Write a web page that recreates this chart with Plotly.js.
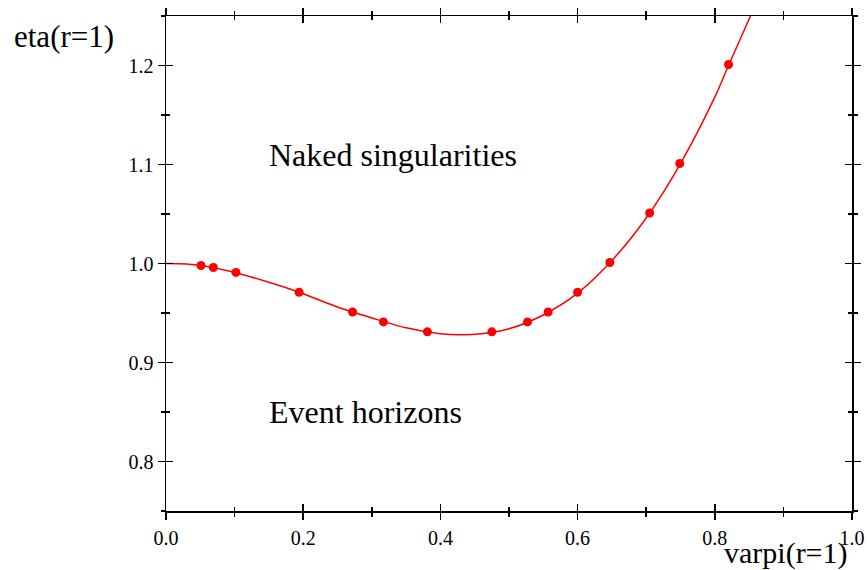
<!DOCTYPE html>
<html>
<head>
<meta charset="utf-8">
<script src="https://cdn.plot.ly/plotly-3.0.1.min.js"></script>
<style>html,body{margin:0;padding:0;background:#fff;}#chart{width:867px;height:570px;}</style>
</head>
<body>
<div id="chart"></div>
<script>
// Measured points
const pointX = [0.051, 0.069, 0.102, 0.194, 0.272, 0.317, 0.381, 0.475, 0.527, 0.557, 0.600, 0.647, 0.705, 0.749, 0.820];
const pointY = [0.998, 0.996, 0.991, 0.971, 0.951, 0.941, 0.931, 0.931, 0.941, 0.951, 0.971, 1.001, 1.051, 1.101, 1.201];
// Fitted curve
const curveX = [0.0, 0.03, 0.051, 0.1, 0.15, 0.194, 0.25, 0.3, 0.35, 0.4, 0.43, 0.46, 0.5, 0.55, 0.6, 0.65, 0.7, 0.75, 0.8, 0.82, 0.852];
const curveY = [1.0, 0.9995, 0.998, 0.991, 0.981, 0.971, 0.956, 0.945, 0.935, 0.929, 0.928, 0.929, 0.934, 0.948, 0.970, 1.003, 1.046, 1.101, 1.168, 1.200, 1.250];
const xTicks = [0.0, 0.2, 0.4, 0.6, 0.8, 1.0];
const xTickText = ["0.0", "0.2", "0.4", "0.6", "0.8", "1.0"];
const yTicks = [0.8, 0.9, 1.0, 1.1, 1.2];
const yTickText = ["0.8", "0.9", "1.0", "1.1", "1.2"];
const labelNaked = "Naked singularities";
const labelEvent = "Event horizons";
const xTitle = "varpi(r=1)";
const yTitle = "eta(r=1)";

const serif = "Liberation Serif, Times New Roman, serif";
const xRange = [0, 1];
const yRange = [0.75, 1.25];

const traces = [
  {x: curveX, y: curveY, mode: 'lines', type: 'scatter', line: {color: '#ff0000', width: 1.5, shape: 'spline', smoothing: 0.8}, hoverinfo: 'skip'},
  {x: pointX, y: pointY, mode: 'markers', type: 'scatter', marker: {color: '#ff0000', size: 9}},
  {x: [], y: [], xaxis: 'x2', yaxis: 'y2', type: 'scatter', mode: 'markers'}
];

function axisBase(range, tickvals, ticktext, minorDtick, ticks) {
  return {
    range: range, tickmode: 'array', tickvals: tickvals, ticktext: ticktext,
    ticks: ticks, ticklen: 7, tickwidth: 1.5, tickcolor: '#000',
    showline: true, linecolor: '#000', linewidth: 1.5, mirror: 'ticks',
    showgrid: false, zeroline: false,
    minor: {dtick: minorDtick, ticks: ticks, ticklen: 4, tickwidth: 1.5, tickcolor: '#000', showgrid: false},
    tickfont: {family: serif, size: 20, color: '#000'}
  };
}

const xa = axisBase(xRange, xTicks, xTickText, 0.1, 'outside');
xa.ticklabelstandoff = 1;
const ya = axisBase(yRange, yTicks, yTickText, 0.05, 'outside');
const xa2 = axisBase(xRange, xTicks, xTickText, 0.1, 'inside');
xa2.overlaying = 'x'; xa2.anchor = 'y'; xa2.showticklabels = false; xa2.side = 'bottom';
const ya2 = axisBase(yRange, yTicks, yTickText, 0.05, 'inside');
ya2.overlaying = 'y'; ya2.anchor = 'x'; ya2.showticklabels = false; ya2.side = 'left';

const layout = {
  width: 867, height: 570,
  margin: {l: 166, r: 15, t: 16, b: 59},
  paper_bgcolor: '#fff', plot_bgcolor: '#fff',
  showlegend: false,
  xaxis: xa, yaxis: ya, xaxis2: xa2, yaxis2: ya2,
  annotations: [
    {text: labelNaked, x: 0.147, y: 1.11, xref: 'x', yref: 'y', xanchor: 'left', yanchor: 'middle', showarrow: false, font: {family: serif, size: 32, color: '#000'}},
    {text: labelEvent, x: 0.147, y: 0.85, xref: 'x', yref: 'y', xanchor: 'left', yanchor: 'middle', showarrow: false, font: {family: serif, size: 32, color: '#000'}},
    {text: yTitle, x: -0.2245, y: 0.9576, xref: 'paper', yref: 'paper', xanchor: 'left', yanchor: 'middle', showarrow: false, font: {family: serif, size: 31, color: '#000'}},
    {text: xTitle, x: 0.997, y: -0.084, xref: 'paper', yref: 'paper', xanchor: 'right', yanchor: 'middle', showarrow: false, font: {family: serif, size: 30, color: '#000'}}
  ]
};

Plotly.newPlot('chart', traces, layout, {displayModeBar: false, staticPlot: true});
</script>
</body>
</html>
